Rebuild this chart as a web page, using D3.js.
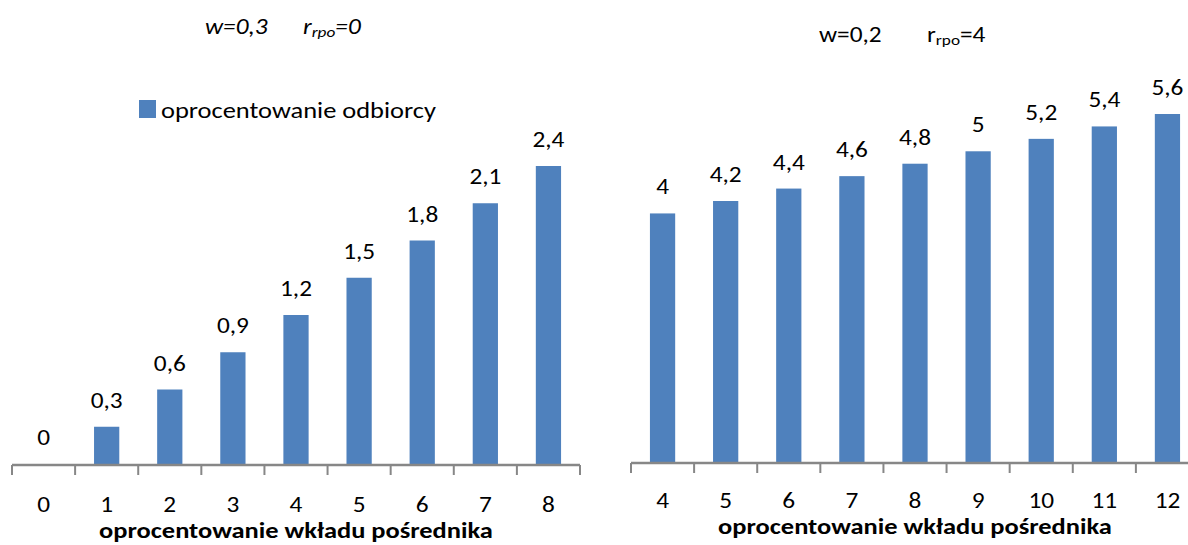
<!DOCTYPE html>
<html>
<head>
<meta charset="utf-8">
<script src="https://cdn.jsdelivr.net/npm/d3@7"></script>
<style>
  html, body { margin: 0; padding: 0; background: #fff; }
  svg { display: block; }
  text { font-family: Carlito, "Liberation Sans", Arial, sans-serif; fill: #000; }
</style>
</head>
<body>
<svg id="chart" width="1188" height="545"></svg>
<script>
// Left panel: w=0,3, r_rpo=0
const leftCategories = [0, 1, 2, 3, 4, 5, 6, 7, 8];
const leftValues = [0, 0.3, 0.6, 0.9, 1.2, 1.5, 1.8, 2.1, 2.4];

// Right panel: w=0,2, r_rpo=4
const rightCategories = [4, 5, 6, 7, 8, 9, 10, 11, 12];
const rightValues = [4, 4.2, 4.4, 4.6, 4.8, 5, 5.2, 5.4, 5.6];

const seriesName = "oprocentowanie odbiorcy";
const xAxisTitle = "oprocentowanie wkładu pośrednika";

const barColor = "#4F81BD";
const axisColor = "#878787";
const SX = 1.15; // horizontal stretch of all lettering

const pl = d3.formatLocale({ decimal: ",", thousands: " ", grouping: [3], currency: ["", " zł"] });
const fmt = v => pl.format("~g")(v);

const svg = d3.select("#chart");

// text placed at (x, y) and widened horizontally by SX
function stext(parent, x, y, str, size, anchor) {
  return parent.append("text")
    .attr("transform", `translate(${x},${y}) scale(${SX},1)`)
    .attr("text-anchor", anchor || "start")
    .style("font-size", size + "px")
    .text(str);
}

function panel(opts) {
  const g = svg.append("g");
  const x = d3.scaleBand().domain(opts.categories).range(opts.xRange).padding(0);
  const y = d3.scaleLinear().domain([0, d3.max(opts.values)]).range(opts.yRange);
  const bw = x.bandwidth() * 0.4;
  const data = opts.categories.map((c, i) => ({ c, v: opts.values[i] }));

  // bars
  g.selectAll("rect.bar").data(data).join("rect")
    .attr("class", "bar")
    .attr("x", d => x(d.c) + (x.bandwidth() - bw) / 2)
    .attr("y", d => y(d.v))
    .attr("width", bw)
    .attr("height", d => y(0) - y(d.v))
    .attr("fill", barColor);

  // value labels
  g.selectAll("text.val").data(data).join("text")
    .attr("class", "val")
    .attr("transform", d => `translate(${x(d.c) + x.bandwidth() / 2},${y(d.v) - 19}) scale(${SX},1)`)
    .attr("text-anchor", "middle")
    .style("font-size", "22px")
    .text(d => fmt(d.v));

  // category axis: ticks between bands, labels below
  const axis = d3.axisBottom(x).tickSize(0).tickPadding(0).tickFormat(d => d);
  const ax = g.append("g").attr("transform", `translate(0,${y(0)})`).call(axis);
  ax.select(".domain").remove();
  ax.selectAll(".tick text")
    .attr("y", opts.tickLabelDy)
    .attr("dy", 0)
    .attr("transform", `scale(${SX},1)`)
    .style("font-size", "22px")
    .style("font-family", 'Carlito, "Liberation Sans", Arial, sans-serif')
    .attr("fill", "#000");

  const bounds = opts.categories.map(c => x(c)).concat([x.range()[1]]);
  g.append("line")
    .attr("x1", x.range()[0]).attr("x2", x.range()[1])
    .attr("y1", y(0) + 1).attr("y2", y(0) + 1)
    .attr("stroke", axisColor).attr("stroke-width", 2.5);
  g.selectAll("line.tk").data(bounds).join("line")
    .attr("class", "tk")
    .attr("x1", d => d).attr("x2", d => d)
    .attr("y1", y(0) + 1).attr("y2", y(0) + 11)
    .attr("stroke", axisColor).attr("stroke-width", 2);

  // axis title
  stext(g, (x.range()[0] + x.range()[1]) / 2, opts.titleY, xAxisTitle, 23, "middle")
    .style("font-weight", "bold");

  return { g, x, y };
}

panel({
  categories: leftCategories, values: leftValues,
  xRange: [12, 580], yRange: [464, 166],
  tickLabelDy: 48, titleY: 538
});

panel({
  categories: rightCategories, values: rightValues,
  xRange: [631, 1199], yRange: [462, 114],
  tickLabelDy: 46, titleY: 534
});

// legend of left panel
svg.append("rect").attr("x", 139).attr("y", 100).attr("width", 17).attr("height", 18).attr("fill", barColor);
stext(svg, 161, 118, seriesName, 23);

// panel headings
stext(svg, 205, 34, "w=0,3", 22).style("font-style", "italic");
const r1 = stext(svg, 303, 34, "r", 22).style("font-style", "italic");
r1.append("tspan").attr("dy", 3).style("font-size", "15px").text("rpo");
r1.append("tspan").attr("dy", -3).text("=0");

stext(svg, 819, 42, "w=0,2", 22);
const r2 = stext(svg, 927, 42, "r", 22);
r2.append("tspan").attr("dy", 3).style("font-size", "15px").text("rpo");
r2.append("tspan").attr("dy", -3).text("=4");
</script>
</body>
</html>
